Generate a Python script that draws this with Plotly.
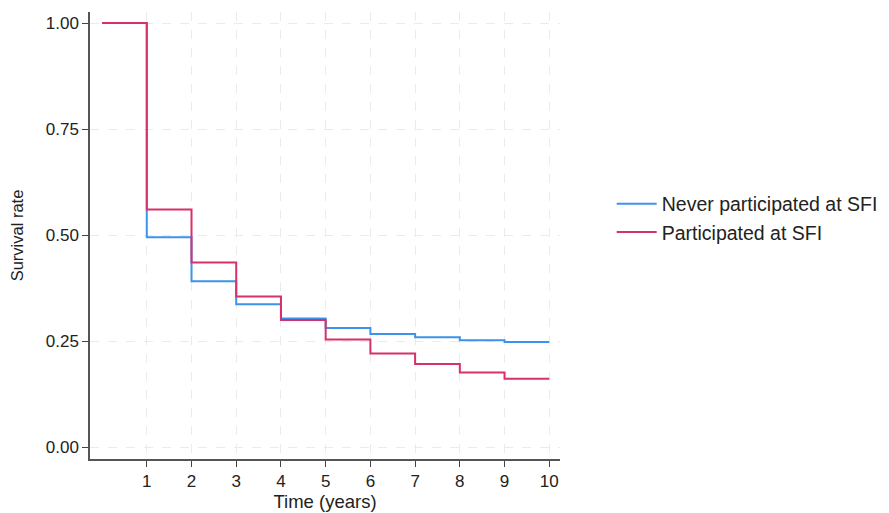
import plotly.graph_objects as go

years = [0, 1, 2, 3, 4, 5, 6, 7, 8, 9, 10]
never_participated = [1.00, 0.495, 0.391, 0.337, 0.3035, 0.281, 0.267, 0.259, 0.252, 0.2476, 0.2476]
participated = [1.00, 0.5606, 0.4355, 0.355, 0.2995, 0.254, 0.221, 0.1958, 0.176, 0.161, 0.161]
x_ticks = [1, 2, 3, 4, 5, 6, 7, 8, 9, 10]
y_ticks = [0.00, 0.25, 0.50, 0.75, 1.00]
y_tick_labels = ["0.00", "0.25", "0.50", "0.75", "1.00"]

fig = go.Figure()
fig.add_trace(go.Scatter(x=years, y=never_participated, mode="lines", line_shape="hv",
                         name="Never participated at SFI",
                         line=dict(color="#3d93ec", width=2)))
fig.add_trace(go.Scatter(x=years, y=participated, mode="lines", line_shape="hv",
                         name="Participated at SFI",
                         line=dict(color="#d8306a", width=2)))

font_family = "Liberation Sans, Arial, sans-serif"
fig.update_layout(
    width=889, height=513,
    margin=dict(l=82, r=337, t=4, b=62),
    paper_bgcolor="white", plot_bgcolor="white",
    font=dict(family=font_family, size=17, color="#222222"),
    legend=dict(x=1.11, y=0.539, xanchor="left", yanchor="middle",
                font=dict(size=19.5, color="#222222"), itemwidth=40,
                tracegroupgap=0, bgcolor="rgba(0,0,0,0)"),
    xaxis=dict(range=[-0.27, 10.24], tickvals=x_ticks, ticks="outside", ticklen=6,
               tickcolor="#444444", showline=True, linecolor="#555555", linewidth=1.5,
               showgrid=True, gridcolor="#ebebeb", griddash="dash", zeroline=False,
               automargin=False,
               title=dict(text="Time (years)", font=dict(size=18.5), standoff=2),
               tickfont=dict(size=17)),
    yaxis=dict(range=[-0.028, 1.026], tickvals=y_ticks, ticktext=y_tick_labels,
               ticks="outside", ticklen=6, tickcolor="#444444",
               showline=True, linecolor="#555555", linewidth=1.5,
               showgrid=True, gridcolor="#ebebeb", griddash="dash", zeroline=False,
               automargin=False,
               title=dict(text="Survival rate", font=dict(size=16.5), standoff=18),
               tickfont=dict(size=17)),
)

fig.write_html("out.html")
